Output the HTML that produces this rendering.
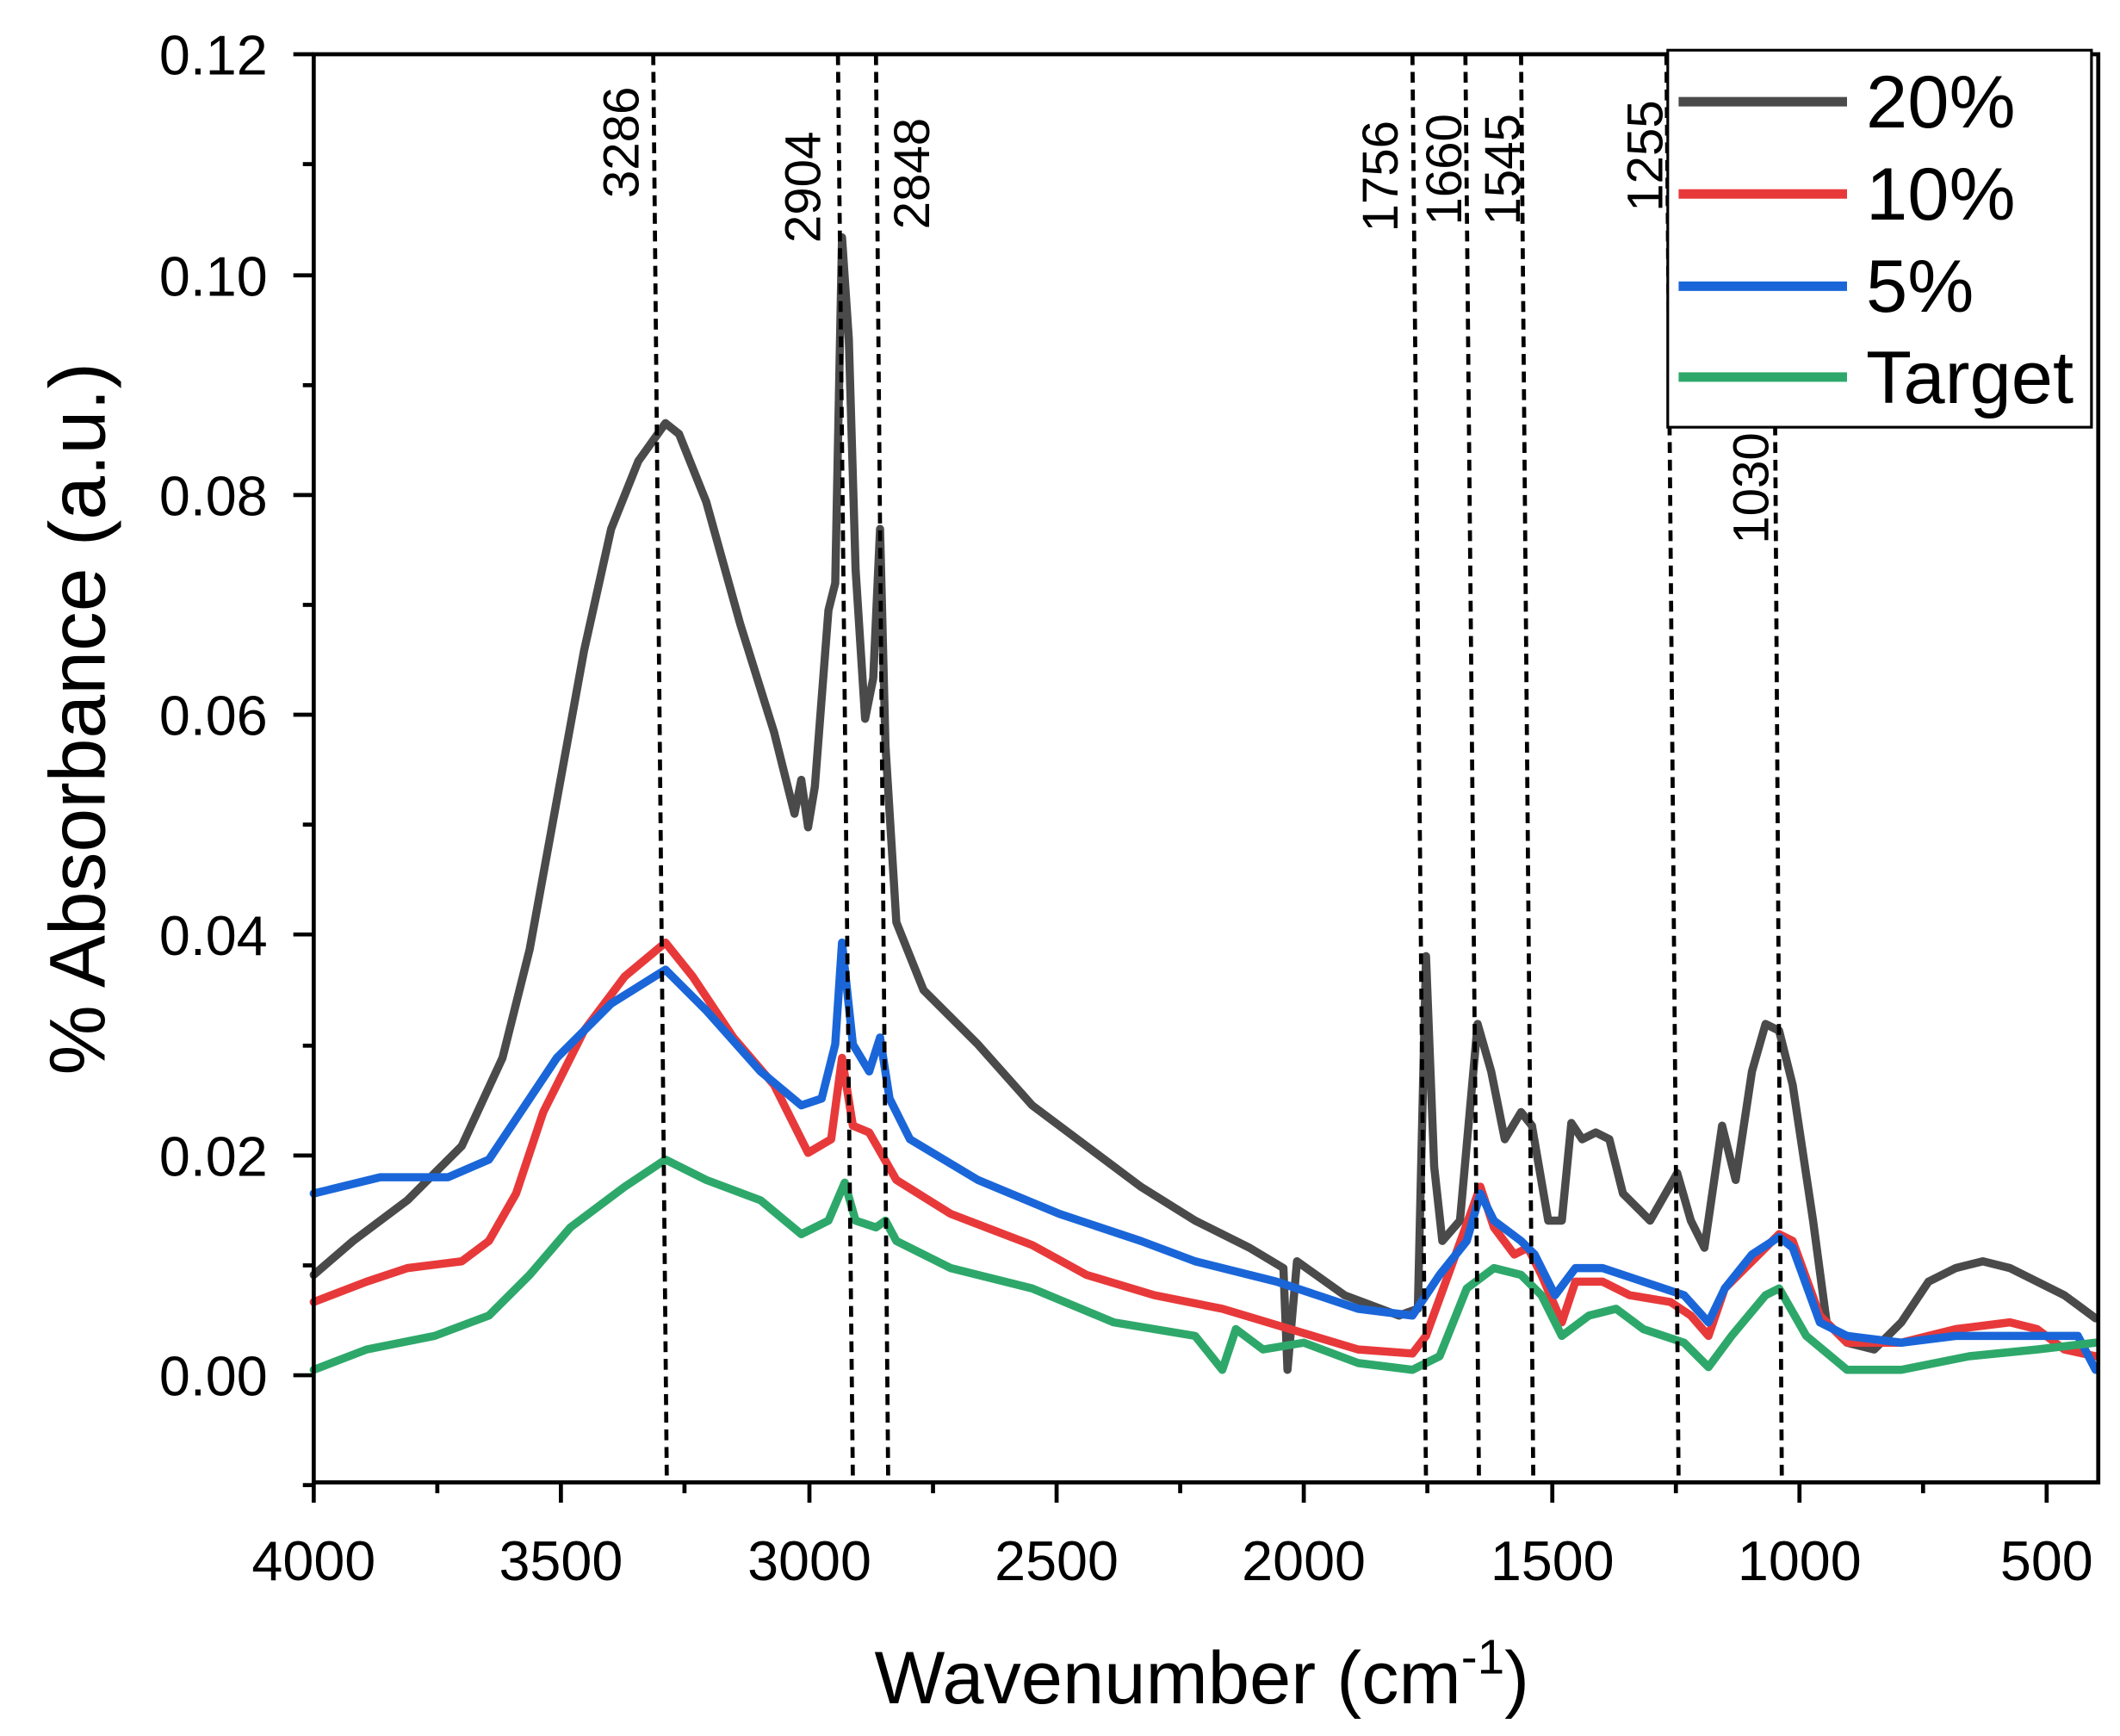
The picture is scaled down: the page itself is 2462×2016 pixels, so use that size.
<!DOCTYPE html>
<html><head><meta charset="utf-8"><style>html,body{margin:0;padding:0;background:#fff}svg{display:block}</style></head>
<body>
<svg width="2462" height="2016" viewBox="0 0 1561 1280" preserveAspectRatio="none" xmlns="http://www.w3.org/2000/svg" font-family="Liberation Sans, sans-serif">
<rect width="1561" height="1280" fill="#fff"/>
<g fill="none" stroke-width="6" stroke-linejoin="round" stroke-linecap="round">
<polyline stroke="#4a4a4a" points="231,940 260,915 300,885 340,845 370,780 390,700 410,590 430,480 450,390 470,340 490,312 500,320 520,370 545,460 570,540 585,600 590,575 595,610 600,580 610,450 615,430 620,175 625,250 630,420 637,530 643,500 648,390 652,550 660,680 680,730 720,770 760,815 800,845 840,875 880,900 920,920 945,935 948,1010 955,930 990,955 1030,970 1044,965 1050,705 1056,860 1062,915 1075,900 1088,755 1098,790 1108,840 1120,820 1128,830 1140,900 1150,900 1157,828 1165,840 1175,835 1185,840 1195,880 1215,900 1235,865 1245,900 1255,920 1268,830 1278,870 1290,790 1300,755 1310,760 1320,800 1335,900 1345,975 1360,990 1380,995 1400,975 1420,945 1440,935 1460,930 1480,935 1500,945 1520,955 1543,972"/>
<polyline stroke="#e8393a" points="231,960 270,945 300,935 340,930 360,915 380,880 400,820 430,760 460,720 490,695 510,720 540,765 570,800 595,850 612,840 620,780 628,830 640,835 660,870 700,895 760,918 800,940 850,955 900,965 950,980 1000,995 1040,998 1050,985 1070,930 1090,875 1100,905 1115,925 1125,920 1135,940 1150,975 1160,945 1180,945 1200,955 1230,960 1245,970 1258,985 1270,950 1290,930 1310,910 1320,915 1340,970 1360,990 1400,990 1440,980 1480,975 1500,980 1520,995 1543,1000"/>
<polyline stroke="#1a66d9" points="231,880 280,868 330,868 360,855 380,825 410,780 450,740 490,715 520,745 560,790 590,815 605,810 615,770 620,695 628,770 640,790 648,765 655,810 670,840 720,870 780,895 840,915 880,930 940,945 1000,965 1040,970 1060,940 1080,915 1090,880 1100,900 1120,915 1130,925 1145,955 1160,935 1180,935 1210,945 1240,955 1258,975 1270,950 1290,925 1310,912 1320,920 1340,975 1360,985 1400,990 1440,985 1500,985 1530,985 1543,1010"/>
<polyline stroke="#2ea86a" points="231,1010 270,995 320,985 360,970 390,940 420,905 460,875 490,855 520,870 560,885 590,910 610,900 622,872 630,900 645,905 652,900 660,915 700,935 760,950 820,975 880,985 900,1010 910,980 930,995 960,990 1000,1005 1040,1010 1060,1000 1080,950 1100,935 1120,940 1135,955 1150,985 1170,970 1190,965 1210,980 1240,990 1258,1008 1275,985 1300,955 1310,950 1330,985 1360,1010 1400,1010 1450,1000 1500,995 1543,990"/>
</g>
<g stroke="#000" stroke-width="3" stroke-dasharray="8,5">
<line x1="481" y1="40" x2="491" y2="1093"/><line x1="617" y1="40" x2="628" y2="1093"/><line x1="645" y1="40" x2="654" y2="1093"/>
<line x1="1040" y1="40" x2="1050" y2="1093"/><line x1="1079" y1="40" x2="1089" y2="1093"/><line x1="1120" y1="40" x2="1129" y2="1093"/>
<line x1="1227" y1="40" x2="1236" y2="1093"/><line x1="1307" y1="300" x2="1312" y2="1093"/>
</g>
<g font-size="37" fill="#000" text-anchor="middle">
<text transform="translate(470,105) rotate(-90)">3286</text>
<text transform="translate(604,138) rotate(-90)">2904</text>
<text transform="translate(684,128) rotate(-90)">2848</text>
<text transform="translate(1029,130) rotate(-90)">1756</text>
<text transform="translate(1076,125) rotate(-90)">1660</text>
<text transform="translate(1119,125) rotate(-90)">1545</text>
<text transform="translate(1224,115) rotate(-90)">1255</text>
<text transform="translate(1302,360) rotate(-90)">1030</text>
</g>
<rect x="231" y="40" width="1314" height="1053" fill="none" stroke="#000" stroke-width="3"/>
<g stroke="#000" stroke-width="3">
<line x1="231" y1="1093" x2="231" y2="1108"/><line x1="413" y1="1093" x2="413" y2="1108"/><line x1="596" y1="1093" x2="596" y2="1108"/><line x1="778" y1="1093" x2="778" y2="1108"/><line x1="960" y1="1093" x2="960" y2="1108"/><line x1="1143" y1="1093" x2="1143" y2="1108"/><line x1="1325" y1="1093" x2="1325" y2="1108"/><line x1="1507" y1="1093" x2="1507" y2="1108"/>
<line x1="322" y1="1093" x2="322" y2="1101"/><line x1="504" y1="1093" x2="504" y2="1101"/><line x1="687" y1="1093" x2="687" y2="1101"/><line x1="869" y1="1093" x2="869" y2="1101"/><line x1="1051" y1="1093" x2="1051" y2="1101"/><line x1="1234" y1="1093" x2="1234" y2="1101"/><line x1="1416" y1="1093" x2="1416" y2="1101"/>
<line x1="216" y1="1014" x2="231" y2="1014"/><line x1="216" y1="852" x2="231" y2="852"/><line x1="216" y1="689" x2="231" y2="689"/><line x1="216" y1="527" x2="231" y2="527"/><line x1="216" y1="365" x2="231" y2="365"/><line x1="216" y1="203" x2="231" y2="203"/><line x1="216" y1="40" x2="231" y2="40"/>
<line x1="223" y1="1095" x2="231" y2="1095"/><line x1="223" y1="933" x2="231" y2="933"/><line x1="223" y1="771" x2="231" y2="771"/><line x1="223" y1="608" x2="231" y2="608"/><line x1="223" y1="446" x2="231" y2="446"/><line x1="223" y1="284" x2="231" y2="284"/><line x1="223" y1="121" x2="231" y2="121"/>
</g>
<g font-size="41" fill="#000" text-anchor="end">
<text x="197" y="1029">0.00</text><text x="197" y="867">0.02</text><text x="197" y="704">0.04</text><text x="197" y="542">0.06</text><text x="197" y="380">0.08</text><text x="197" y="218">0.10</text><text x="197" y="55">0.12</text>
</g>
<g font-size="41" fill="#000" text-anchor="middle">
<text x="231" y="1165">4000</text><text x="413" y="1165">3500</text><text x="596" y="1165">3000</text><text x="778" y="1165">2500</text><text x="960" y="1165">2000</text><text x="1143" y="1165">1500</text><text x="1325" y="1165">1000</text><text x="1507" y="1165">500</text>
</g>
<text x="885" y="1256" font-size="55" text-anchor="middle">Wavenumber (cm<tspan font-size="36" dy="-22">-1</tspan><tspan dy="22">)</tspan></text>
<text transform="translate(77,530) rotate(-90)" font-size="58" text-anchor="middle">% Absorbance (a.u.)</text>
<rect x="1228" y="37" width="312" height="278" fill="#fff" stroke="#000" stroke-width="2"/>
<g stroke-width="7">
<line x1="1236" y1="75" x2="1360" y2="75" stroke="#4a4a4a"/>
<line x1="1236" y1="143" x2="1360" y2="143" stroke="#e8393a"/>
<line x1="1236" y1="211" x2="1360" y2="211" stroke="#1a66d9"/>
<line x1="1236" y1="278" x2="1360" y2="278" stroke="#2ea86a"/>
</g>
<g font-size="55" fill="#000">
<text x="1374" y="94">20%</text><text x="1374" y="162">10%</text><text x="1374" y="230">5%</text><text x="1374" y="297">Target</text>
</g>
</svg>
</body></html>
